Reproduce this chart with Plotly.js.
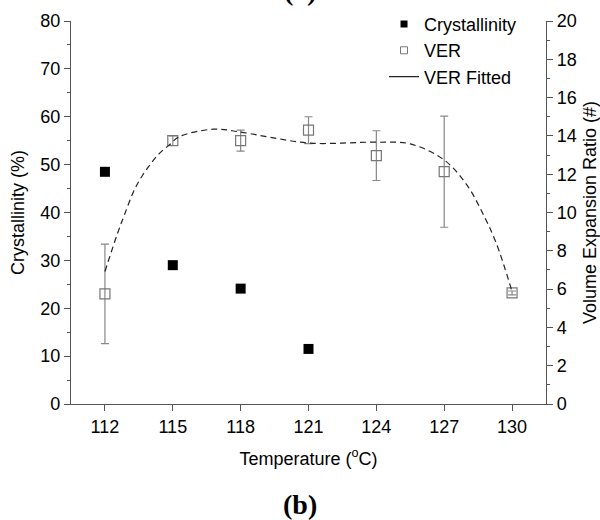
<!DOCTYPE html>
<html>
<head>
<meta charset="utf-8">
<script src="https://cdn.plot.ly/plotly-3.0.1.min.js"></script>
<style>html,body{margin:0;padding:0;background:#fff;}#chart{width:600px;height:520px;}</style>
</head>
<body>
<div id="chart"></div>
<script>
// Data
const temps = [112, 115, 118, 121, 124, 127, 130];
const crystTemps = [112, 115, 118, 121];
const crystallinity = [48.5, 29.0, 24.1, 11.5];
const ver = [5.75, 13.75, 13.75, 14.3, 12.97, 12.13, 5.8];
const verErr = [2.6, 0.25, 0.55, 0.7, 1.3, 2.9, 0.1];
const fitTemps = [112, 112.56, 112.86, 113.3, 113.67, 114.04, 114.41, 114.85, 115.29, 116.8, 117.9, 119.3, 121.1, 124, 125.5, 127, 128, 128.7, 129.3, 130];
const fitVer = [6.92, 8.92, 9.87, 11.18, 11.96, 12.57, 13.09, 13.53, 13.96, 14.35, 14.22, 13.93, 13.62, 13.67, 13.58, 12.74, 11.44, 9.96, 8.4, 5.87];
const tickLabels = temps.map(String);

const font = 'Liberation Sans, Arial, sans-serif';
const axisColor = '#555';
const fs = 18;

const traces = [
  {
    x: crystTemps, y: crystallinity, name: 'Crystallinity', type: 'scatter', mode: 'markers',
    marker: {symbol: 'square', size: 10, color: '#000'}, yaxis: 'y', showlegend: false
  },
  {
    x: temps, y: ver, name: 'VER', type: 'scatter', mode: 'markers',
    marker: {symbol: 'square-open', size: 10, color: '#777', line: {width: 1.2}},
    error_y: {type: 'data', array: verErr, visible: true, color: '#888', thickness: 1.2, width: 4},
    yaxis: 'y2', showlegend: false
  },
  {
    x: fitTemps, y: fitVer, name: 'VER Fitted', type: 'scatter', mode: 'lines',
    line: {color: '#222', width: 1.2, dash: '6px,4px', shape: 'spline', smoothing: 1},
    yaxis: 'y2', showlegend: false
  },
  // legend-only entries (smaller legend symbols, solid fitted line as in the reference)
  {x: [null], y: [null], name: 'Crystallinity', type: 'scatter', mode: 'markers',
   marker: {symbol: 'square', size: 7, color: '#000'}, yaxis: 'y'},
  {x: [null], y: [null], name: 'VER', type: 'scatter', mode: 'markers',
   marker: {symbol: 'square-open', size: 7, color: '#777', line: {width: 1}}, yaxis: 'y2'},
  {x: [null], y: [null], name: 'VER Fitted', type: 'scatter', mode: 'lines',
   line: {color: '#222', width: 1.2}, yaxis: 'y2'}
];

const layout = {
  width: 600, height: 520,
  margin: {l: 71, r: 54, t: 21, b: 116, autoexpand: false},
  paper_bgcolor: '#fff', plot_bgcolor: '#fff',
  font: {family: font, size: fs, color: '#000'},
  showlegend: true,
  legend: {x: 0.659, xanchor: 'left', y: 1.040, yanchor: 'top', bgcolor: 'rgba(0,0,0,0)',
           font: {family: font, size: fs}, tracegroupgap: 0, itemwidth: 30},
  xaxis: {
    range: [110.5, 131.5], tickvals: temps, ticktext: tickLabels,
    showgrid: false, zeroline: false, showline: true, linecolor: axisColor, linewidth: 1.2,
    ticks: 'outside', ticklen: 6, tickcolor: axisColor, tickfont: {family: font, size: fs},
    title: {text: 'Temperature (<sup>o</sup>C)', font: {family: font, size: fs}, standoff: 16}
  },
  yaxis: {
    range: [0, 80], dtick: 10, showgrid: false, zeroline: false,
    showline: true, linecolor: axisColor, linewidth: 1.2,
    ticks: 'outside', ticklen: 6, tickcolor: axisColor, tickfont: {family: font, size: fs},
    minor: {ticks: 'outside', ticklen: 3, dtick: 5, tickcolor: axisColor},
    title: {text: 'Crystallinity (%)', font: {family: font, size: fs}, standoff: 10}
  },
  yaxis2: {
    range: [0, 20], dtick: 2, overlaying: 'y', side: 'right', anchor: 'x',
    showgrid: false, zeroline: false, showline: true, linecolor: axisColor, linewidth: 1.2,
    ticks: 'outside', ticklen: 6, tickcolor: axisColor, tickfont: {family: font, size: fs},
    minor: {ticks: 'outside', ticklen: 3, dtick: 1, tickcolor: axisColor},
    title: {text: 'Volume Expansion Ratio (#)', font: {family: font, size: fs}, standoff: 10}
  },
  annotations: [
    {text: '<b>(b)</b>', xref: 'paper', yref: 'paper', x: 0.483, y: -0.262, yanchor: 'middle',
     showarrow: false, font: {family: 'Liberation Serif, Times New Roman, serif', size: 28, color: '#000'}},
    {text: '<b>(a)</b>', xref: 'paper', yref: 'paper', x: 0.483, y: 1.034, yanchor: 'bottom',
     showarrow: false, font: {family: 'Liberation Serif, Times New Roman, serif', size: 28, color: '#000'}}
  ]
};

Plotly.newPlot('chart', traces, layout, {displayModeBar: false, staticPlot: true});
</script>
</body>
</html>
